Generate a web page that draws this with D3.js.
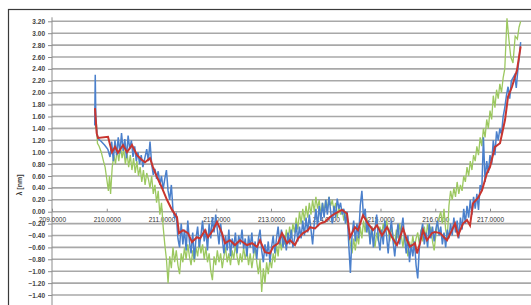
<!DOCTYPE html>
<html>
<head>
<meta charset="utf-8">
<script src="https://cdn.jsdelivr.net/npm/d3@7"></script>
<style>
  body { margin: 0; background: #fff; }
  svg { display: block; font-family: "Liberation Sans", Arial, sans-serif; }
</style>
</head>
<body>
<div id="chart"></div>
<script>
// y axis ticks (every 0.2) and x axis tick labels
const yTicks = [-1.4, -1.2, -1.0, -0.8, -0.6, -0.4, -0.2, 0, 0.2, 0.4, 0.6, 0.8, 1.0, 1.2, 1.4, 1.6, 1.8, 2.0, 2.2, 2.4, 2.6, 2.8, 3.0, 3.2];
const xTicks = [209, 210, 211, 212, 213, 214, 215, 216, 217, 218];

// smoothed series (red)
const redData = [
  [209.785, 1.74], [209.816, 1.32], [209.84, 1.24], [210.023, 1.26], [210.096, 1.00], [210.151, 1.09],
  [210.205, 0.99], [210.297, 1.12], [210.37, 1.00], [210.461, 1.12], [210.553, 0.95], [210.644, 0.87],
  [210.699, 0.83], [210.79, 0.90], [210.845, 0.75], [210.918, 0.58], [211.009, 0.40], [211.1, 0.20],
  [211.192, 0.03], [211.283, -0.09], [211.32, -0.36], [211.393, -0.31], [211.484, -0.36], [211.557, -0.51],
  [211.648, -0.43], [211.703, -0.45], [211.795, -0.31], [211.849, -0.43], [211.941, -0.31], [212.014, -0.17],
  [212.105, -0.36], [212.16, -0.53], [212.251, -0.48], [212.342, -0.56], [212.434, -0.48], [212.562, -0.56],
  [212.653, -0.53], [212.744, -0.59], [212.799, -0.48], [212.89, -0.68], [212.982, -0.70], [213.037, -0.59],
  [213.128, -0.53], [213.201, -0.36], [213.292, -0.53], [213.347, -0.48], [213.438, -0.56], [213.493, -0.45],
  [213.584, -0.36], [213.676, -0.31], [213.712, -0.26], [213.804, -0.28], [213.895, -0.20], [213.986, -0.17],
  [214.078, -0.09], [214.169, -0.03], [214.297, 0.03], [214.388, -0.03], [214.443, -0.43], [214.534, -0.26],
  [214.589, -0.31], [214.68, -0.06], [214.772, -0.20], [214.863, -0.31], [214.936, -0.23], [215.027, -0.40],
  [215.119, -0.26], [215.21, -0.43], [215.301, -0.56], [215.356, -0.43], [215.411, -0.28], [215.484, -0.48],
  [215.539, -0.59], [215.63, -0.53], [215.667, -0.70], [215.721, -0.53], [215.776, -0.31], [215.849, -0.48],
  [215.941, -0.36], [215.995, -0.34], [216.087, -0.36], [216.215, -0.48], [216.306, -0.31], [216.361, -0.20],
  [216.416, -0.40], [216.507, -0.20], [216.58, -0.14], [216.635, -0.23], [216.69, 0.14], [216.781, 0.23],
  [216.854, 0.36], [216.945, 0.65], [217.0, 0.75], [217.091, 1.09], [217.183, 1.15], [217.274, 1.54],
  [217.329, 1.93], [217.402, 2.10], [217.493, 2.38], [217.56, 2.78]
];

// measured series (blue)
const blueData = [
  [209.78, 1.45], [209.79, 2.30], [209.80, 1.60], [209.82, 1.30], [209.85, 1.22], [209.90, 1.18], [209.96, 1.12],
  [210.02, 1.05], [210.06, 0.92], [210.09, 1.18], [210.12, 0.85], [210.15, 1.20], [210.18, 0.95], [210.21, 1.25],
  [210.24, 0.98], [210.27, 1.32], [210.30, 1.02], [210.33, 1.22], [210.36, 0.90], [210.39, 1.28], [210.42, 1.05],
  [210.45, 1.20], [210.48, 0.92], [210.51, 1.10], [210.54, 0.85], [210.57, 1.00], [210.60, 0.80], [210.63, 0.95],
  [210.66, 0.75], [210.70, 0.92], [210.73, 1.05], [210.76, 0.85], [210.79, 1.18], [210.82, 0.80], [210.85, 0.62],
  [210.88, 0.72], [210.91, 0.55], [210.94, 0.68], [210.97, 0.45], [211.00, 0.60], [211.03, 0.38], [211.06, 0.55],
  [211.09, 0.70], [211.12, 0.35], [211.15, 0.20], [211.18, 0.45], [211.21, 0.02], [211.24, -0.10], [211.27, -0.05],
  [211.30, -0.45], [211.33, -0.60], [211.36, -0.20], [211.39, -0.55], [211.42, -0.30], [211.45, -0.65], [211.48, -0.15],
  [211.51, -0.50], [211.54, -0.70], [211.57, -0.35], [211.60, -0.80], [211.63, -0.45], [211.66, -0.25], [211.69, -0.60],
  [211.72, -0.40], [211.75, -0.15], [211.78, -0.50], [211.81, -0.30], [211.84, -0.65], [211.87, -0.20], [211.90, -0.45],
  [211.93, -0.10], [211.96, -0.35], [211.99, -0.05], [212.02, -0.30], [212.05, -0.55], [212.08, -0.20], [212.11, -0.45],
  [212.14, -0.70], [212.17, -0.40], [212.20, -0.65], [212.23, -0.30], [212.26, -0.75], [212.29, -0.45], [212.32, -0.60],
  [212.35, -0.35], [212.38, -0.70], [212.41, -0.40], [212.44, -0.55], [212.47, -0.30], [212.50, -0.62], [212.53, -0.45],
  [212.56, -0.75], [212.59, -0.40], [212.62, -0.60], [212.65, -0.35], [212.68, -0.70], [212.71, -0.50], [212.74, -0.80],
  [212.77, -0.45], [212.80, -0.30], [212.83, -0.65], [212.86, -0.85], [212.89, -0.55], [212.92, -0.75], [212.95, -0.50],
  [212.98, -0.85], [213.01, -0.60], [213.04, -0.40], [213.07, -0.70], [213.10, -0.45], [213.13, -0.25], [213.16, -0.55],
  [213.19, -0.30], [213.22, -0.60], [213.25, -0.40], [213.28, -0.65], [213.31, -0.35], [213.34, -0.55], [213.37, -0.30],
  [213.40, -0.60], [213.43, -0.45], [213.46, -0.20], [213.49, -0.50], [213.52, -0.25], [213.55, -0.45], [213.58, -0.15],
  [213.61, -0.40], [213.64, -0.10], [213.67, -0.35], [213.70, -0.05], [213.73, -0.30], [213.76, -0.55], [213.79, -0.20],
  [213.82, 0.05], [213.85, -0.25], [213.88, 0.10], [213.91, -0.15], [213.94, 0.15], [213.97, -0.10], [214.00, 0.20],
  [214.03, -0.05], [214.06, 0.25], [214.09, 0.00], [214.12, -0.20], [214.15, 0.10], [214.18, -0.10], [214.21, 0.22],
  [214.24, 0.05], [214.27, 0.15], [214.30, -0.05], [214.33, 0.05], [214.36, -0.20], [214.39, 0.00], [214.42, -0.55],
  [214.45, -1.03], [214.48, -0.40], [214.51, -0.15], [214.54, -0.50], [214.57, -0.20], [214.60, -0.45], [214.63, 0.10],
  [214.66, 0.35], [214.69, -0.10], [214.72, 0.05], [214.75, -0.35], [214.78, -0.15], [214.81, -0.55], [214.84, -0.25],
  [214.87, -0.60], [214.90, -0.30], [214.93, -0.05], [214.96, -0.45], [214.99, -0.65], [215.02, -0.30], [215.05, -0.55],
  [215.08, -0.15], [215.11, -0.40], [215.14, -0.70], [215.17, -0.35], [215.20, -0.15], [215.23, -0.50], [215.26, -0.75],
  [215.29, -0.45], [215.32, -0.20], [215.35, -0.55], [215.38, -0.30], [215.41, -0.10], [215.44, -0.45], [215.47, -0.70],
  [215.50, -0.40], [215.53, -0.85], [215.56, -0.55], [215.59, -0.75], [215.62, -0.50], [215.65, -0.90], [215.68, -1.12],
  [215.71, -0.60], [215.74, -0.35], [215.77, -0.20], [215.80, -0.55], [215.83, -0.35], [215.86, -0.60], [215.89, -0.20],
  [215.92, -0.45], [215.95, -0.25], [215.98, -0.50], [216.01, -0.30], [216.04, -0.15], [216.07, -0.40], [216.10, -0.25],
  [216.13, -0.55], [216.16, -0.35], [216.19, -0.60], [216.22, -0.30], [216.25, -0.45], [216.28, -0.20], [216.31, -0.40],
  [216.34, -0.10], [216.37, -0.35], [216.40, -0.15], [216.43, -0.45], [216.46, -0.10], [216.49, -0.30], [216.52, 0.05],
  [216.55, -0.20], [216.58, 0.10], [216.61, -0.10], [216.64, 0.20], [216.67, -0.05], [216.70, 0.25], [216.73, 0.05],
  [216.76, 0.30], [216.79, 0.03], [216.82, 0.45], [216.85, 0.35], [216.88, 1.25], [216.91, 0.50], [216.94, 0.85],
  [216.97, 0.65], [217.00, 0.95], [217.03, 0.80], [217.06, 1.20], [217.09, 0.95], [217.12, 1.35], [217.15, 1.20],
  [217.18, 1.40], [217.21, 1.30], [217.24, 1.60], [217.27, 1.75], [217.30, 1.95], [217.33, 2.10], [217.36, 1.90],
  [217.39, 2.20], [217.42, 2.25], [217.45, 2.30], [217.48, 2.08], [217.51, 2.40], [217.54, 2.65], [217.56, 2.85]
];

// measured series (green)
const greenData = [
  [209.79, 1.40], [209.81, 1.50], [209.83, 1.15], [209.86, 1.10], [209.90, 1.00], [209.94, 0.85], [209.97, 0.75],
  [210.00, 0.55], [210.03, 0.35], [210.05, 0.60], [210.07, 0.30], [210.10, 0.75], [210.13, 0.95], [210.16, 0.80],
  [210.19, 1.05], [210.22, 0.85], [210.25, 1.10], [210.28, 0.90], [210.31, 1.05], [210.34, 0.80], [210.37, 1.00],
  [210.40, 0.75], [210.43, 0.95], [210.46, 0.70], [210.49, 0.90], [210.52, 0.65], [210.55, 0.85], [210.58, 0.60],
  [210.61, 0.75], [210.64, 0.50], [210.67, 0.70], [210.70, 0.45], [210.73, 0.65], [210.76, 0.55], [210.79, 0.40],
  [210.82, 0.60], [210.85, 0.30], [210.88, 0.45], [210.91, 0.15], [210.94, 0.35], [210.97, -0.05], [211.00, 0.15],
  [211.03, -0.25], [211.06, -0.55], [211.09, -0.80], [211.12, -1.20], [211.15, -0.75], [211.18, -0.95], [211.21, -0.60],
  [211.24, -0.85], [211.27, -0.65], [211.30, -0.90], [211.33, -1.05], [211.36, -0.70], [211.39, -0.85], [211.42, -0.60],
  [211.45, -0.80], [211.48, -0.55], [211.51, -0.75], [211.54, -0.90], [211.57, -0.65], [211.60, -0.85], [211.63, -0.60],
  [211.66, -0.75], [211.69, -0.50], [211.72, -0.70], [211.75, -0.55], [211.78, -0.80], [211.81, -0.60], [211.84, -0.85],
  [211.87, -0.70], [211.90, -1.00], [211.93, -1.15], [211.96, -0.75], [211.99, -0.90], [212.02, -0.65], [212.05, -0.85],
  [212.08, -0.70], [212.11, -0.95], [212.14, -0.75], [212.17, -0.60], [212.20, -0.85], [212.23, -0.70], [212.26, -0.90],
  [212.29, -0.65], [212.32, -0.80], [212.35, -0.55], [212.38, -0.75], [212.41, -0.90], [212.44, -0.70], [212.47, -0.85],
  [212.50, -0.60], [212.53, -0.80], [212.56, -0.65], [212.59, -0.90], [212.62, -0.70], [212.65, -0.95], [212.68, -0.75],
  [212.71, -0.60], [212.74, -0.85], [212.77, -1.05], [212.80, -0.80], [212.83, -1.35], [212.86, -0.95], [212.89, -1.20],
  [212.92, -0.85], [212.95, -1.05], [212.98, -0.80], [213.01, -0.95], [213.04, -0.70], [213.07, -0.85], [213.10, -0.55],
  [213.13, -0.75], [213.16, -0.45], [213.19, -0.65], [213.22, -0.40], [213.25, -0.55], [213.28, -0.30], [213.31, -0.50],
  [213.34, -0.25], [213.37, -0.45], [213.40, -0.20], [213.43, -0.35], [213.46, -0.10], [213.49, -0.30], [213.52, 0.00],
  [213.55, -0.20], [213.58, 0.05], [213.61, -0.15], [213.64, 0.10], [213.67, -0.10], [213.70, 0.15], [213.73, -0.05],
  [213.76, 0.20], [213.79, 0.00], [213.82, 0.25], [213.85, 0.05], [213.88, 0.20], [213.91, -0.05], [213.94, 0.15],
  [213.97, 0.00], [214.00, 0.20], [214.03, 0.05], [214.06, 0.25], [214.09, 0.10], [214.12, 0.20], [214.15, 0.00],
  [214.18, 0.15], [214.21, -0.10], [214.24, 0.10], [214.27, -0.05], [214.30, 0.05], [214.33, -0.15], [214.36, 0.00],
  [214.39, -0.20], [214.42, -0.30], [214.45, -0.55], [214.48, -0.70], [214.51, -0.45], [214.54, -0.65], [214.57, -0.40],
  [214.60, -0.55], [214.63, -0.25], [214.66, -0.45], [214.69, -0.15], [214.72, -0.35], [214.75, -0.10], [214.78, -0.30],
  [214.81, -0.50], [214.84, -0.25], [214.87, -0.45], [214.90, -0.60], [214.93, -0.35], [214.96, -0.50], [214.99, -0.25],
  [215.02, -0.40], [215.05, -0.20], [215.08, -0.35], [215.11, -0.15], [215.14, -0.30], [215.17, -0.50], [215.20, -0.25],
  [215.23, -0.40], [215.26, -0.55], [215.29, -0.30], [215.32, -0.45], [215.35, -0.20], [215.38, -0.40], [215.41, -0.60],
  [215.44, -0.35], [215.47, -0.55], [215.50, -0.75], [215.53, -0.50], [215.56, -0.65], [215.59, -0.40], [215.62, -0.60],
  [215.65, -0.45], [215.68, -0.35], [215.71, -0.55], [215.74, -0.30], [215.77, -0.50], [215.80, -0.25], [215.83, -0.45],
  [215.86, -0.20], [215.89, -0.40], [215.92, -0.25], [215.95, -0.50], [215.98, -0.65], [216.01, -0.40], [216.04, -0.20],
  [216.07, -0.10], [216.10, 0.00], [216.13, -0.20], [216.16, 0.05], [216.19, -0.30], [216.22, -0.45], [216.25, 0.10],
  [216.28, 0.35], [216.31, 0.20], [216.34, 0.40], [216.37, 0.25], [216.40, 0.50], [216.43, 0.30], [216.46, 0.45],
  [216.49, 0.35], [216.52, 0.60], [216.55, 0.50], [216.58, 0.75], [216.61, 0.60], [216.64, 0.85], [216.67, 0.70],
  [216.70, 0.95], [216.73, 0.85], [216.76, 1.10], [216.79, 0.95], [216.82, 1.25], [216.85, 1.10], [216.88, 1.40],
  [216.91, 1.25], [216.94, 1.55], [216.97, 1.40], [217.00, 1.70], [217.03, 1.55], [217.06, 1.95], [217.09, 1.75],
  [217.12, 2.05], [217.15, 1.90], [217.18, 2.15], [217.21, 2.00], [217.24, 2.25], [217.27, 2.40], [217.31, 3.25],
  [217.35, 2.85], [217.38, 2.60], [217.42, 2.50], [217.46, 2.95], [217.50, 2.90], [217.53, 3.10], [217.56, 3.20]
];

const width = 531, height = 305;

const svg = d3.select("#chart").append("svg")
  .attr("width", width)
  .attr("height", height);

// scales: 209 at the value axis, 217 near the right end
const x = d3.scaleLinear().domain([209, 217]).range([52, 490]);
const y = d3.scaleLinear().domain([-1.4, 3.2]).range([295, 21.3]);

// outer chart frame
svg.append("rect")
  .attr("x", 8.5).attr("y", 9.5)
  .attr("width", 560).attr("height", 320)
  .attr("fill", "none")
  .attr("stroke", "#3a3a3a")
  .attr("stroke-width", 1.2);

// horizontal gridlines
svg.append("g")
  .selectAll("line")
  .data(yTicks)
  .join("line")
  .attr("x1", x(209)).attr("x2", width)
  .attr("y1", d => y(d)).attr("y2", d => y(d))
  .attr("stroke", "#a8a8a8")
  .attr("stroke-width", 1.6);

// value axis
const yAxis = svg.append("g")
  .attr("transform", `translate(${x(209)},0)`)
  .call(d3.axisLeft(y).tickValues(yTicks).tickFormat(d3.format(".2f")).tickSize(4).tickPadding(3));
yAxis.select(".domain").attr("stroke", "#8c8c8c").attr("d", `M0,${y(3.2) - 4}V${height}`);
yAxis.selectAll(".tick line").attr("stroke", "#8c8c8c");
yAxis.selectAll(".tick text")
  .attr("fill", "#444")
  .style("font-size", "6.5px")
  .style("font-weight", "bold");

// category axis crossing at zero
const xAxis = svg.append("g")
  .attr("transform", `translate(0,${y(0)})`)
  .call(d3.axisBottom(x).tickValues(xTicks).tickFormat(d3.format(".4f")).tickSize(3).tickPadding(3));
xAxis.select(".domain").remove();
xAxis.selectAll(".tick line").attr("stroke", "#8c8c8c").attr("y1", -3).attr("y2", 0);
xAxis.selectAll(".tick text")
  .attr("fill", "#333")
  .style("font-size", "6.5px");

// axis title
svg.append("text")
  .attr("transform", `translate(22,185) rotate(-90)`)
  .attr("text-anchor", "middle")
  .attr("fill", "#333")
  .style("font-size", "7px")
  .style("font-weight", "bold")
  .text("λ [nm]");

const line = d3.line().x(d => x(d[0])).y(d => y(d[1]));

svg.append("path").datum(greenData)
  .attr("d", line)
  .attr("fill", "none")
  .attr("stroke", "#9cc860")
  .attr("stroke-width", 1.3);

svg.append("path").datum(blueData)
  .attr("d", line)
  .attr("fill", "none")
  .attr("stroke", "#4b80cc")
  .attr("stroke-width", 1.5);

svg.append("path").datum(redData)
  .attr("d", line)
  .attr("fill", "none")
  .attr("stroke", "#c8352f")
  .attr("stroke-width", 2);
</script>
</body>
</html>
